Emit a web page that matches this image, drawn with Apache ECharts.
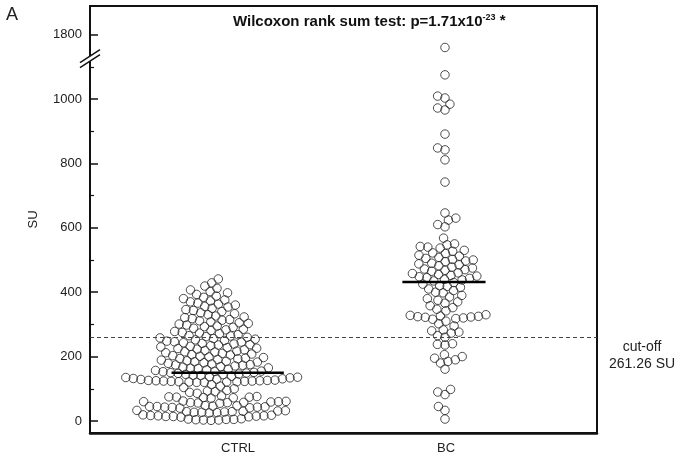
<!DOCTYPE html>
<html><head><meta charset="utf-8">
<script src="https://cdn.jsdelivr.net/npm/echarts@6/dist/echarts.min.js"></script>
<style>html,body{margin:0;padding:0;background:#fff}#c{width:688px;height:466px}</style>
</head><body><div id="c"></div>
<script>
const categories = ['CTRL', 'BC'];
const ctrlValues = [
  441, 429, 419, 412, 407, 402, 398, 393, 388,
  384, 380, 376, 373, 370, 366, 363, 360, 356, 354, 350, 346, 343, 340, 336, 333, 330, 326,
  323, 321, 318, 315, 313, 311, 308, 305, 303, 301, 298, 295, 293, 291, 288, 285, 283, 281, 278, 275, 273, 271, 268, 265,
  264, 262, 260, 258, 256, 254, 252, 250, 248, 246, 245, 243, 241, 239, 237, 236, 234, 232, 230, 228, 226, 225, 223, 221,
  219, 217, 215, 214, 212, 210, 208, 206, 205, 203, 201, 199, 197, 195,
  194, 193, 191, 189, 187, 185, 184, 183, 181, 179, 177, 175, 174, 173, 171, 169, 167, 165, 164, 163, 161, 159, 157, 155,
  154, 153, 151, 150, 149, 148, 146,
  145, 144, 142, 141, 139, 137, 136,
  135, 134, 132, 131, 130, 129, 127,
  126, 126, 125, 125, 124, 124, 123, 123, 122, 122, 121, 121, 120, 120,
  113, 108, 104, 100,
  95, 93, 91, 89, 86,
  78, 76, 75, 74, 74, 73, 72, 71,
  62, 61, 60, 60, 59, 58, 57, 57, 56, 55,
  48, 47, 46, 45, 45, 44, 43, 43, 42, 41, 40,
  33, 32, 31, 30, 29, 29, 28, 27, 27, 26, 25,
  19, 18, 17, 16, 16, 15, 14, 14, 13, 12,
  7, 6, 5, 5, 4, 3, 3, 2
];
const bcValues = [
  1760, 1075, 1009, 1003, 984, 972, 966, 891, 848, 842, 811, 742,
  646, 630, 624, 610, 603, 568, 550, 547, 542, 540, 537, 530, 527, 522, 520, 515, 512, 508, 505,
  502, 500, 497, 495, 490, 488, 485, 482, 478, 475, 472, 470, 468, 465, 460, 458, 455, 452, 450, 448, 445, 443, 440, 438, 435,
  430, 425, 420, 418, 415, 410, 405, 400, 398, 390, 385, 380, 375, 370, 366, 358, 352, 347, 342,
  330, 328, 326, 325, 324, 323, 322, 320, 318, 316, 310, 302, 295, 283, 280, 276, 273, 265, 260,
  240, 238, 236, 206, 200, 195, 190, 185, 180, 161, 98, 90, 82, 45, 33, 6
];
const medians = [150, 432];
const medianHalfWidths = [0.27, 0.2];
const medianOffsets = [-0.05, -0.01];
const swarmOffsets = [-0.13, -0.005];
const cutoff = 261.26;
const yTickValues = [0, 200, 400, 600, 800, 1000, 1200];
const yTickLabels = ['0', '200', '400', '600', '800', '1000', '1800'];
const yMinorTicks = [100, 300, 500, 700, 900, 1100];
const breakAt = 1125;      // where the axis break is drawn
const breakShift = 600;    // values above the break are drawn shifted down by this

const FONT = '"Liberation Sans", Arial, Helvetica, sans-serif';
const chart = echarts.init(document.getElementById('c'), null, {renderer: 'canvas'});
function plotValue(v) { return v > 1500 ? v - breakShift : v; }

const Y_MIN = -37.3, Y_MAX = 1288.8;
const X_MIN = 0.288, X_MAX = 2.726;
const baseOption = {
  animation: false,
  grid: {left: 90, right: 91, top: 6, bottom: 33, show: true, borderColor: '#111', borderWidth: 2, containLabel: false},
  xAxis: {
    type: 'value', min: X_MIN, max: X_MAX,
    axisLine: {show: true, onZero: false, lineStyle: {color: '#111', width: 2.5}},
    axisTick: {show: false}, splitLine: {show: false},
    axisLabel: {customValues: [1, 2], formatter: v => categories[Math.round(v) - 1] || '',
      fontSize: 13, color: '#222', margin: 9, fontFamily: FONT}
  },
  yAxis: [{
    type: 'value', min: Y_MIN, max: Y_MAX, position: 'left',
    name: 'SU', nameLocation: 'middle', nameGap: 50, nameRotate: 90,
    nameTextStyle: {fontSize: 13, color: '#222', fontFamily: FONT},
    axisLine: {show: true, onZero: false, lineStyle: {color: '#111', width: 2}},
    axisTick: {show: true, inside: true, length: 8, customValues: yTickValues, lineStyle: {color: '#111', width: 1.5}},
    axisLabel: {customValues: yTickValues, formatter: v => yTickLabels[yTickValues.indexOf(v)] ?? '',
      fontSize: 13, color: '#222', margin: 8, fontFamily: FONT},
    splitLine: {show: false}
  }, {
    type: 'value', min: Y_MIN, max: Y_MAX, position: 'left',
    axisLine: {show: false, onZero: false},
    axisTick: {show: true, inside: true, length: 4, customValues: yMinorTicks, lineStyle: {color: '#111', width: 1.2}},
    axisLabel: {show: false}, splitLine: {show: false}
  }],
  series: []
};
chart.setOption(baseOption);

function swarm(values, center, d) {
  const pts = values.map(v => ({v, py: chart.convertToPixel({yAxisIndex: 0}, plotValue(v)), dx: 0}));
  const order = pts.slice().sort((a, b) => b.py - a.py);
  const placed = [];
  for (const p of order) {
    const cands = [0];
    for (const q of placed) {
      const dy = Math.abs(q.py - p.py);
      if (dy < d) { const dx = Math.sqrt(d * d - dy * dy); cands.push(q.dx + dx, q.dx - dx); }
    }
    cands.sort((a, b) => Math.abs(a) - Math.abs(b) || a - b);
    for (const c of cands) {
      if (placed.every(q => (q.dx - c) ** 2 + (q.py - p.py) ** 2 >= d * d - 0.01)) { p.dx = c; break; }
    }
    placed.push(p);
  }
  const cx = chart.convertToPixel({xAxisIndex: 0}, center);
  return pts.map(p => [chart.convertFromPixel({xAxisIndex: 0}, cx + p.dx), plotValue(p.v), p.v]);
}

const dotStyle = {color: 'rgba(255,255,255,0)', borderColor: '#222', borderWidth: 1};
const groups = [ctrlValues, bcValues];
const series = groups.map((vals, i) => ({
  type: 'scatter', name: categories[i], symbol: 'circle', symbolSize: 8.5,
  itemStyle: dotStyle, data: swarm(vals, i + 1 + swarmOffsets[i], 7.6), z: 3
}));
medians.forEach((m, i) => {
  const c = i + 1 + medianOffsets[i];
  series.push({
    type: 'line', symbol: 'none', z: 5,
    lineStyle: {color: '#000', width: 2.5},
    data: [[c - medianHalfWidths[i], m], [c + medianHalfWidths[i], m]]
  });
});
series.push({
  type: 'line', data: [], z: 2,
  markLine: {
    silent: true, symbol: 'none',
    lineStyle: {type: [4, 3], color: '#444', width: 1},
    label: {
      position: 'end', distance: 3,
      formatter: '{a|cut-off}\n{a|' + cutoff.toFixed(2) + ' SU}',
      padding: [38, 0, 0, 0],
      rich: {a: {width: 84, align: 'center', fontSize: 14, lineHeight: 17, color: '#222', fontFamily: FONT}}
    },
    data: [{yAxis: cutoff}]
  }
});

const ax = chart.convertToPixel({xAxisIndex: 0}, X_MIN);
const yb = chart.convertToPixel({yAxisIndex: 0}, breakAt);
const A1 = [ax - 10, yb + 4], A2 = [ax + 10, yb - 9];
const B1 = [ax - 10, yb + 9], B2 = [ax + 10, yb - 4];

chart.setOption({
  title: {
    left: 228, top: 8,
    text: '{a|Wilcoxon rank sum test: p=1.71x10}{s|-23}{a| }{st|*}',
    textStyle: {rich: {
      a: {fontSize: 15, fontWeight: 'bold', color: '#111', fontFamily: FONT, lineHeight: 18},
      s: {fontSize: 9, fontWeight: 'bold', color: '#111', fontFamily: FONT, lineHeight: 9, verticalAlign: 'top'},
      st: {fontSize: 15, fontWeight: 'bold', color: '#111', fontFamily: FONT, lineHeight: 15, verticalAlign: 'top'}
    }}
  },
  graphic: [
    {type: 'text', left: 6, top: 6, style: {text: 'A', fontSize: 18, fill: '#222', fontFamily: FONT}},
    {type: 'polygon', z: 100, shape: {points: [A1, A2, B2, B1]}, style: {fill: '#fff'}},
    {type: 'line', z: 101, shape: {x1: A1[0], y1: A1[1], x2: A2[0], y2: A2[1]}, style: {stroke: '#111', lineWidth: 1.5}},
    {type: 'line', z: 101, shape: {x1: B1[0], y1: B1[1], x2: B2[0], y2: B2[1]}, style: {stroke: '#111', lineWidth: 1.5}}
  ],
  series
});
</script></body></html>
